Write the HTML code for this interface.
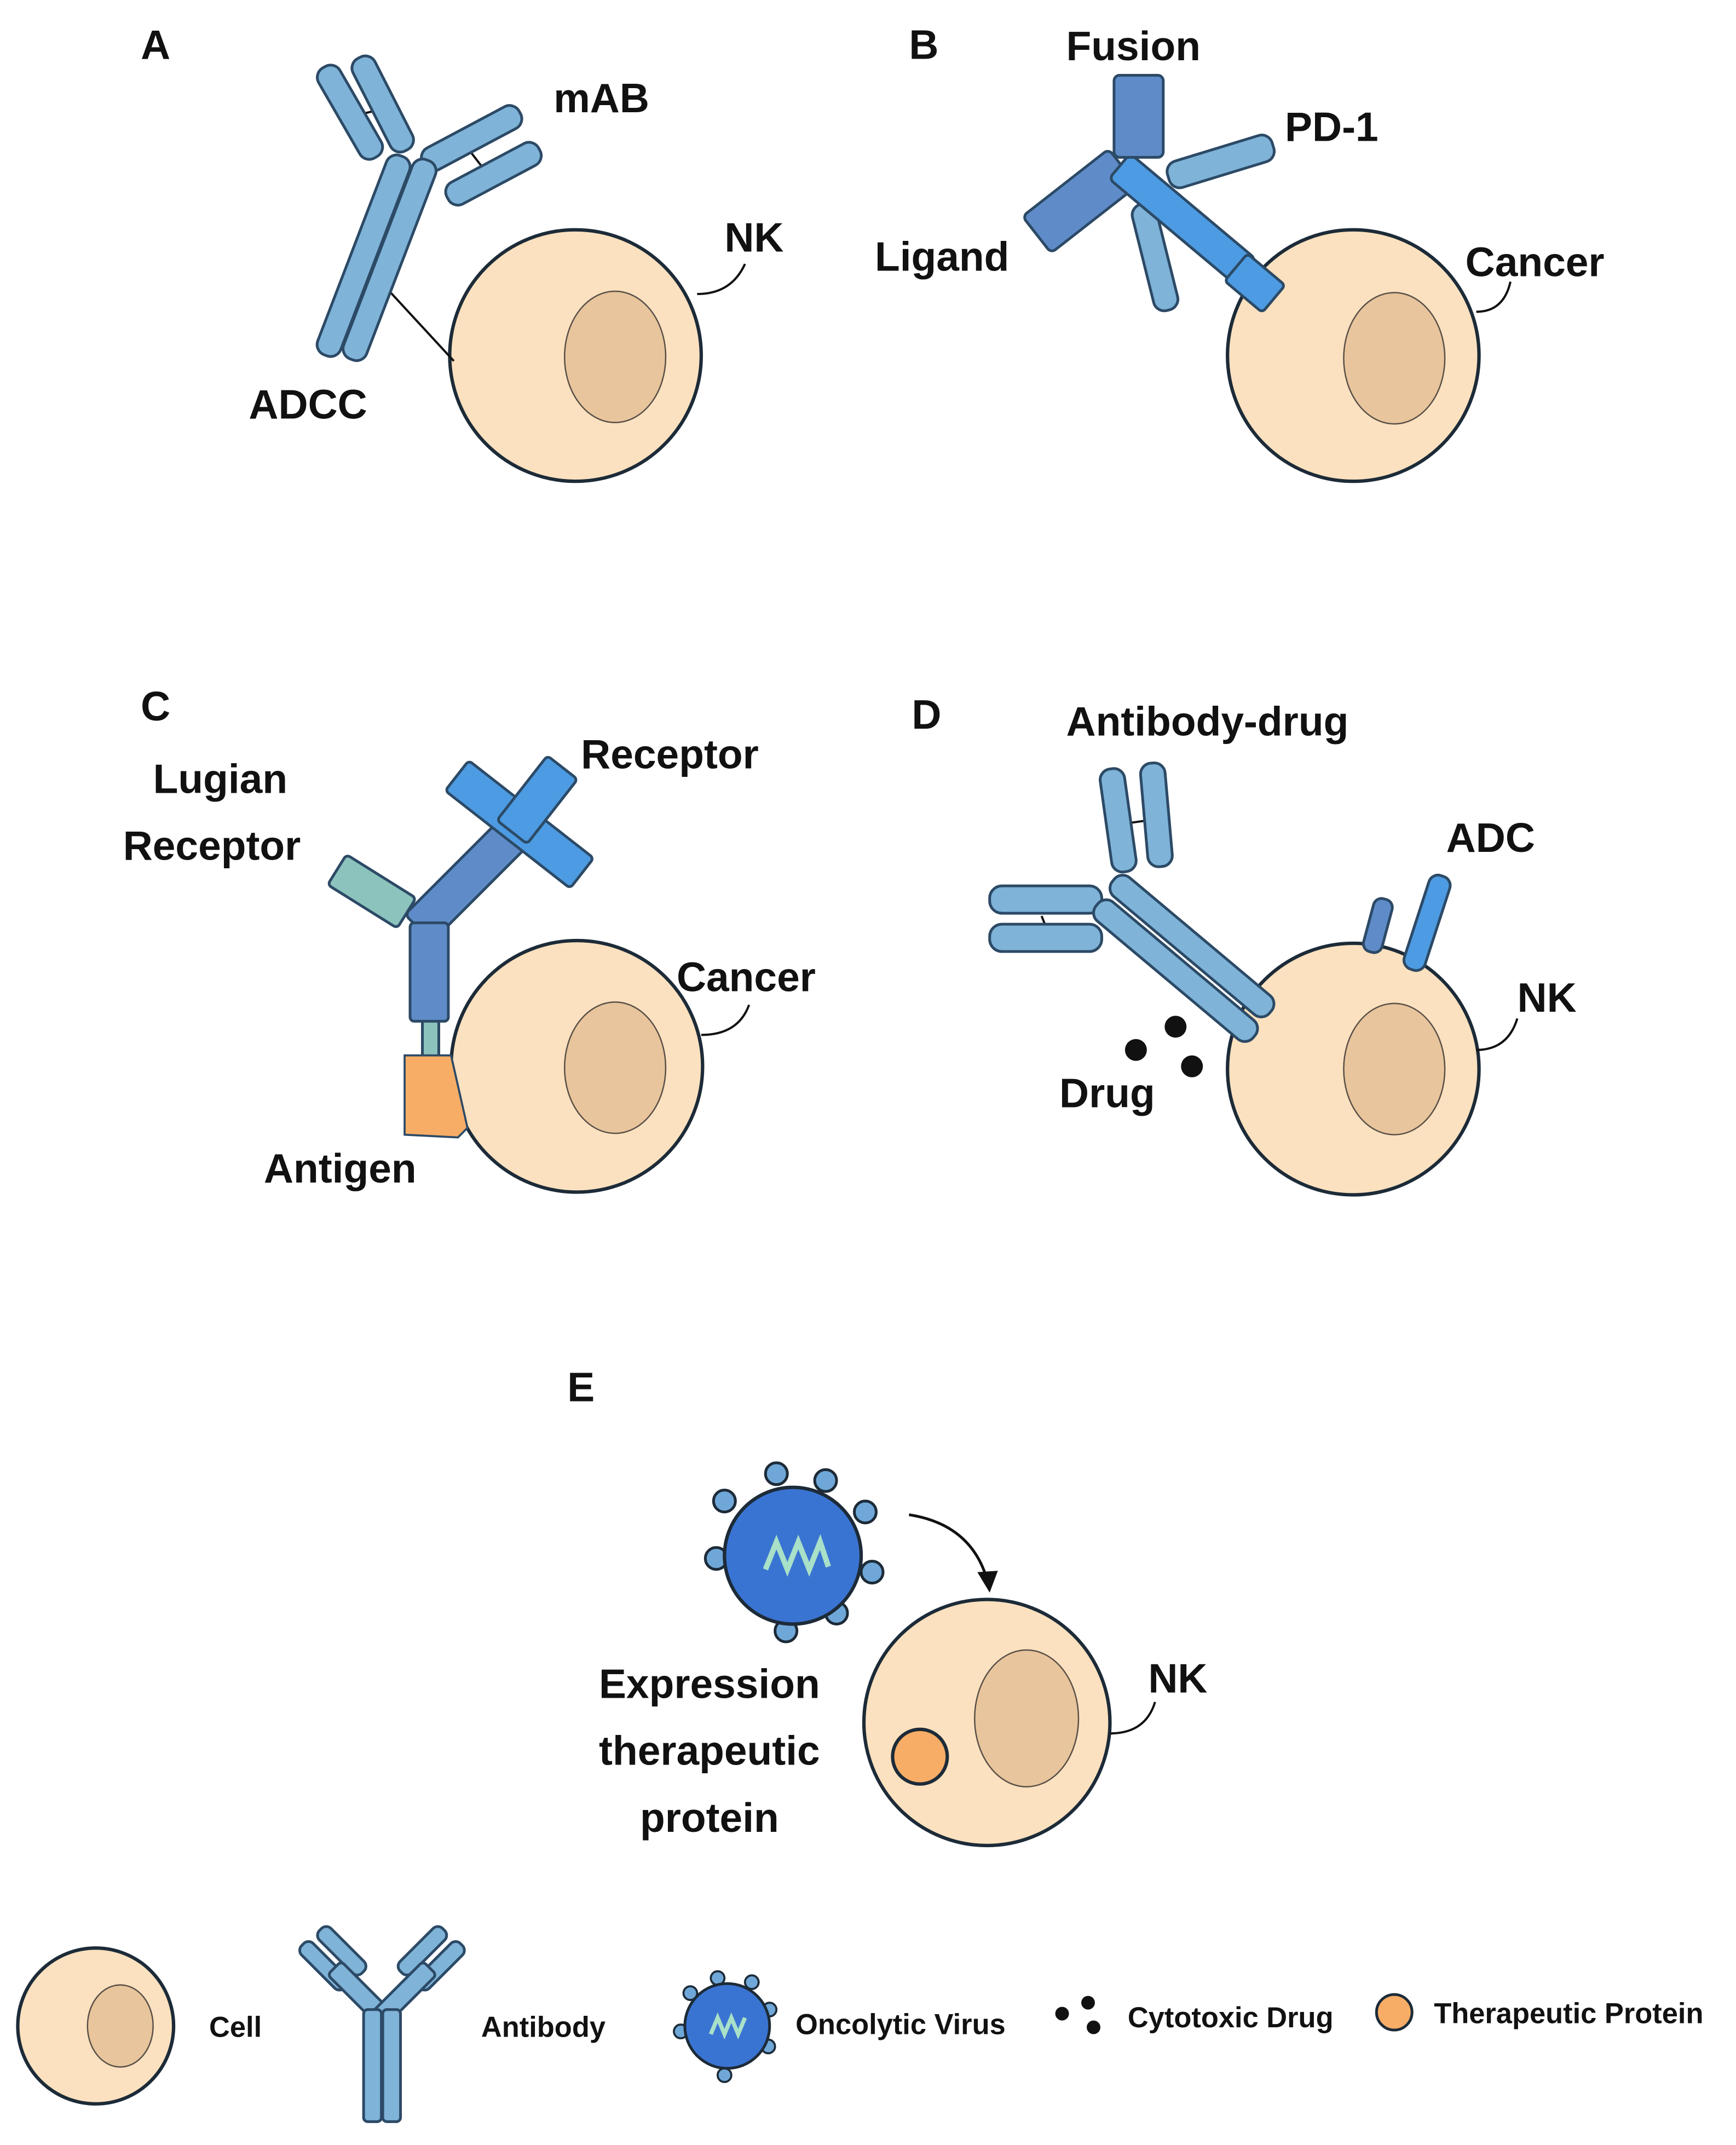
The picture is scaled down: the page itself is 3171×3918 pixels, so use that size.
<!DOCTYPE html>
<html><head><meta charset="utf-8"><style>html,body{margin:0;padding:0;background:#fff}svg{display:block}</style></head>
<body>
<svg width="3171" height="3918" viewBox="0 0 1270 1569" xmlns="http://www.w3.org/2000/svg" font-family="Liberation Sans, sans-serif" font-weight="bold">
<defs>
<style>
.cell{fill:#fbe1bf;stroke:#1d2b38;stroke-width:2.5}
.nuc{fill:#e8c59c;stroke:#5a5048;stroke-width:1}
.lb{fill:#7fb3d8;stroke:#2c4a66;stroke-width:2}
.db{fill:#5f8cc9;stroke:#2c4a66;stroke-width:2}
.bb{fill:#4d9be2;stroke:#2c4a66;stroke-width:2}
.tl{fill:#8cc3bd;stroke:#2c4a66;stroke-width:2}
.ln{stroke:#111;stroke-width:1.6;fill:none}
text{fill:#111}
</style>
</defs>
<!-- Panel A -->
<text x="103" y="43" font-size="30">A</text>
<circle class="cell" cx="421" cy="260" r="92"/>
<ellipse class="nuc" cx="450" cy="261" rx="37" ry="48"/>
<line class="ln" x1="284" y1="212" x2="332" y2="264"/>
<line class="ln" x1="258" y1="85" x2="278" y2="80"/>
<line class="ln" x1="345" y1="112" x2="355" y2="125"/>
<g transform="translate(256,82) rotate(-30)"><rect class="lb" x="-9" y="-38" width="18" height="76" rx="8"/></g>
<g transform="translate(280,76) rotate(-27)"><rect class="lb" x="-9" y="-38" width="18" height="76" rx="8"/></g>
<g transform="translate(345,101) rotate(62)"><rect class="lb" x="-9" y="-40" width="18" height="80" rx="8"/></g>
<g transform="translate(361,127) rotate(62)"><rect class="lb" x="-9" y="-38" width="18" height="76" rx="8"/></g>
<g transform="translate(266,187) rotate(21)"><rect class="lb" x="-9" y="-78" width="18" height="156" rx="8"/></g>
<g transform="translate(285,190) rotate(21)"><rect class="lb" x="-9" y="-78" width="18" height="156" rx="8"/></g>
<path class="ln" d="M510 215 Q535 215 545 193"/>
<text x="405" y="82" font-size="30">mAB</text>
<text x="530" y="184" font-size="30">NK</text>
<text x="182" y="306" font-size="30">ADCC</text>
<!-- Panel B -->
<text x="665" y="43" font-size="30">B</text>
<circle class="cell" cx="990" cy="260" r="92"/>
<ellipse class="nuc" cx="1020" cy="262" rx="37" ry="48"/>
<g transform="translate(893,118) rotate(-17)"><rect class="lb" x="-40" y="-10" width="80" height="20" rx="8"/></g>
<g transform="translate(845,188) rotate(-14)"><rect class="lb" x="-9" y="-40" width="18" height="80" rx="8"/></g>
<g transform="translate(790,147) rotate(-38)"><rect class="db" x="-40" y="-17" width="80" height="34" rx="4"/></g>
<g transform="translate(865,160) rotate(40)"><rect class="bb" x="-60" y="-12" width="120" height="24" rx="4"/></g>
<g transform="translate(918,207) rotate(40)"><rect class="bb" x="-18" y="-13" width="36" height="26" rx="3"/></g>
<rect class="db" x="815" y="55" width="36" height="60" rx="4"/>
<path class="ln" d="M1080 228 Q1100 228 1105 206"/>
<text x="780" y="44" font-size="30">Fusion</text>
<text x="940" y="103" font-size="30">PD-1</text>
<text x="640" y="198" font-size="30">Ligand</text>
<text x="1072" y="202" font-size="30">Cancer</text>
<!-- Panel C -->
<text x="103" y="527" font-size="30">C</text>
<circle class="cell" cx="422" cy="780" r="92"/>
<ellipse class="nuc" cx="450" cy="781" rx="37" ry="48"/>
<rect class="tl" x="309" y="745" width="12" height="30"/>
<path d="M296 772 L330 772 L342 825 L335 832 L296 830 Z" fill="#f7ad66" stroke="#2c4a66" stroke-width="1.5"/>
<g transform="translate(272,652) rotate(32)"><rect class="tl" x="-30" y="-13" width="60" height="26" rx="3"/></g>
<g transform="translate(345,640) rotate(-45)"><rect class="db" x="-55" y="-14" width="110" height="28" rx="4"/></g>
<rect class="db" x="300" y="675" width="28" height="72" rx="3"/>
<g transform="translate(380,603) rotate(38)"><rect class="bb" x="-58" y="-14" width="116" height="28" rx="3"/></g>
<g transform="translate(393,585) rotate(-52)"><rect class="bb" x="-30" y="-14" width="60" height="28" rx="3"/></g>
<path class="ln" d="M513 757 Q540 757 548 735"/>
<text x="112" y="580" font-size="30">Lugian</text>
<text x="90" y="629" font-size="30">Receptor</text>
<text x="425" y="562" font-size="30">Receptor</text>
<text x="495" y="725" font-size="30">Cancer</text>
<text x="193" y="865" font-size="30">Antigen</text>
<!-- Panel D -->
<text x="667" y="533" font-size="30">D</text>
<circle class="cell" cx="990" cy="782" r="92"/>
<ellipse class="nuc" cx="1020" cy="782" rx="37" ry="48"/>
<line class="ln" x1="826" y1="602" x2="840" y2="600"/>
<line class="ln" x1="762" y1="670" x2="766" y2="680"/>
<g transform="translate(818,600) rotate(-8)"><rect class="lb" x="-9" y="-38" width="18" height="76" rx="8"/></g>
<g transform="translate(846,596) rotate(-5)"><rect class="lb" x="-9" y="-38" width="18" height="76" rx="8"/></g>
<rect class="lb" x="724" y="648" width="82" height="20" rx="9"/>
<rect class="lb" x="724" y="676" width="82" height="20" rx="9"/>
<g transform="translate(872,692) rotate(40)"><rect class="lb" x="-75" y="-9" width="150" height="18" rx="8"/></g>
<g transform="translate(860,710) rotate(40)"><rect class="lb" x="-75" y="-9" width="150" height="18" rx="8"/></g>
<g transform="translate(1008,677) rotate(15)"><rect class="db" x="-7" y="-20" width="14" height="40" rx="6"/></g>
<g transform="translate(1044,675) rotate(18)"><rect class="bb" x="-8" y="-36" width="16" height="72" rx="7"/></g>
<circle cx="831" cy="768" r="8" fill="#111"/><circle cx="860" cy="751" r="8" fill="#111"/><circle cx="872" cy="780" r="8" fill="#111"/>
<path class="ln" d="M1080 768 Q1103 768 1110 745"/>
<text x="780" y="538" font-size="30">Antibody-drug</text>
<text x="1058" y="623" font-size="30">ADC</text>
<text x="1110" y="740" font-size="30">NK</text>
<text x="775" y="810" font-size="30">Drug</text>
<!-- Panel E -->
<text x="415" y="1025" font-size="30">E</text>
<g fill="#6fa8d8" stroke="#1d2b38" stroke-width="2">
<circle cx="568" cy="1078" r="8"/><circle cx="604" cy="1083" r="8"/><circle cx="633" cy="1106" r="8"/><circle cx="638" cy="1150" r="8"/><circle cx="612" cy="1180" r="8"/><circle cx="575" cy="1193" r="8"/><circle cx="524" cy="1140" r="8"/><circle cx="530" cy="1098" r="8"/>
</g>
<circle cx="580" cy="1138" r="50" fill="#3a74d2" stroke="#1d2b38" stroke-width="2.5"/>
<polyline points="560,1148 568,1128 576,1148 584,1128 592,1148 600,1128 606,1146" fill="none" stroke="#a8e0c8" stroke-width="4"/>
<path d="M665 1108 Q710 1115 722 1155" fill="none" stroke="#111" stroke-width="2"/>
<path d="M715 1150 L724 1165 L730 1149 Z" fill="#111"/>
<circle class="cell" cx="722" cy="1260" r="90"/>
<ellipse class="nuc" cx="751" cy="1257" rx="38" ry="50"/>
<circle cx="673" cy="1285" r="20" fill="#f7ad66" stroke="#1d2b38" stroke-width="2.5"/>
<path class="ln" d="M812 1268 Q838 1268 845 1245"/>
<text x="840" y="1238" font-size="30">NK</text>
<text x="519" y="1242" font-size="30" text-anchor="middle">Expression</text>
<text x="519" y="1291" font-size="30" text-anchor="middle">therapeutic</text>
<text x="519" y="1340" font-size="30" text-anchor="middle">protein</text>
<!-- Legend -->
<circle class="cell" cx="70" cy="1482" r="57"/>
<ellipse class="nuc" cx="88" cy="1482" rx="24" ry="30"/>
<text x="153" y="1490" font-size="21">Cell</text>
<g transform="translate(237,1438) rotate(-45)"><rect class="lb" x="-6" y="-22" width="12" height="44" rx="5"/></g>
<g transform="translate(250,1427) rotate(-45)"><rect class="lb" x="-6" y="-22" width="12" height="44" rx="5"/></g>
<g transform="translate(322,1438) rotate(45)"><rect class="lb" x="-6" y="-22" width="12" height="44" rx="5"/></g>
<g transform="translate(309,1427) rotate(45)"><rect class="lb" x="-6" y="-22" width="12" height="44" rx="5"/></g>
<g transform="translate(263,1458) rotate(-45)"><rect class="lb" x="-7" y="-26" width="14" height="52" rx="3"/></g>
<g transform="translate(296,1458) rotate(45)"><rect class="lb" x="-7" y="-26" width="14" height="52" rx="3"/></g>
<rect class="lb" x="266" y="1470" width="13" height="82" rx="3"/>
<rect class="lb" x="280" y="1470" width="13" height="82" rx="3"/>
<text x="352" y="1490" font-size="21">Antibody</text>
<g fill="#6fa8d8" stroke="#1d2b38" stroke-width="1.5">
<circle cx="525" cy="1447" r="5"/><circle cx="550" cy="1450" r="5"/><circle cx="563" cy="1470" r="5"/><circle cx="562" cy="1497" r="5"/><circle cx="530" cy="1518" r="5"/><circle cx="498" cy="1486" r="5"/><circle cx="505" cy="1458" r="5"/>
</g>
<circle cx="532" cy="1482" r="31" fill="#3a74d2" stroke="#1d2b38" stroke-width="2"/>
<polyline points="520,1488 525,1476 530,1488 535,1476 540,1488 545,1476" fill="none" stroke="#a8e0c8" stroke-width="3"/>
<text x="582" y="1488" font-size="21">Oncolytic Virus</text>
<circle cx="777" cy="1473" r="5" fill="#111"/><circle cx="796" cy="1465" r="5" fill="#111"/><circle cx="800" cy="1483" r="5" fill="#111"/>
<text x="825" y="1483" font-size="21">Cytotoxic Drug</text>
<circle cx="1020" cy="1472" r="13" fill="#f7ad66" stroke="#1d2b38" stroke-width="2"/>
<text x="1049" y="1480" font-size="21">Therapeutic Protein</text>
</svg>
</body></html>
